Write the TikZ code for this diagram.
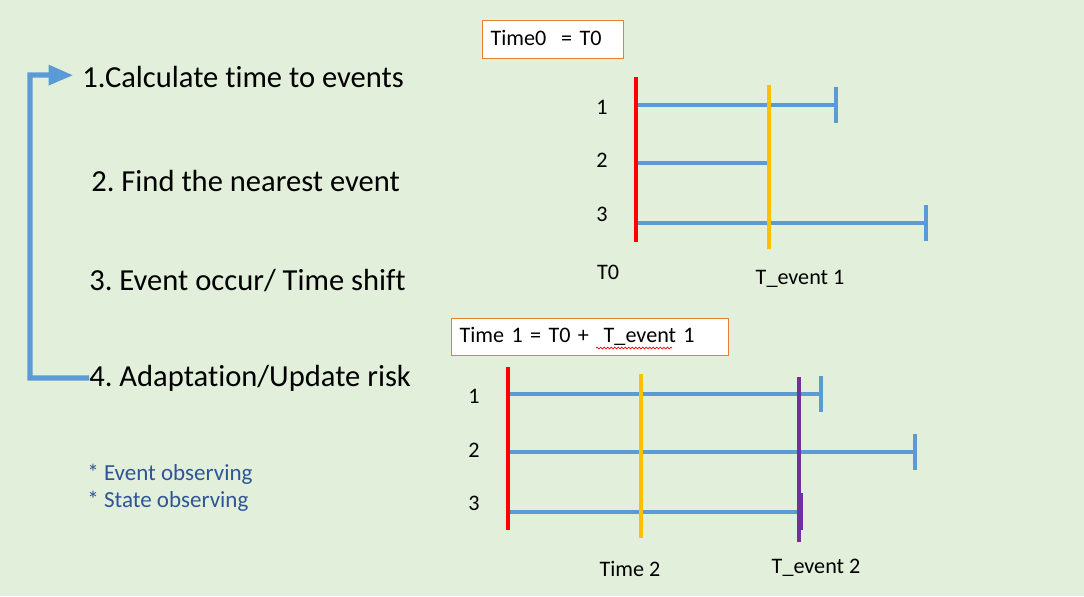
\documentclass[tikz,border=0pt]{standalone}
\usepackage{fontspec}
\setmainfont{Carlito}[Ligatures=NoCommon]
\usetikzlibrary{arrows.meta,decorations.pathmorphing}
\definecolor{bgcolor}{HTML}{E2EFDA}
\definecolor{barcolor}{HTML}{5B9BD5}
\definecolor{boxcolor}{HTML}{ED7D31}
\definecolor{notecolor}{HTML}{2F5597}
\definecolor{nowcolor}{HTML}{FF0000}
\definecolor{nextcolor}{HTML}{FFC000}
\definecolor{latercolor}{HTML}{7030A0}
\newcommand{\barwidth}{2.3pt}
\newcommand{\stepfont}{\fontsize{17.4}{20}\selectfont}
\newcommand{\labelfont}{\fontsize{12.6}{15}\selectfont}
\newcommand{\notefont}{\fontsize{13.1}{15}\selectfont}
\frenchspacing

\begin{document}
\begin{tikzpicture}[x=0.02cm,y=-0.02cm,
  steptext/.style={anchor=west,inner sep=0pt,font=\stepfont},
  rowlabel/.style={inner sep=0pt,font=\labelfont},
  timebox/.style={draw=boxcolor,fill=white,line width=0.7pt,anchor=north west,
    inner sep=0pt,font=\labelfont,text height=9pt,text depth=2.5pt},
  bar/.style={barcolor,line width=\barwidth},
  marker/.style={line width=\barwidth}]
\fill[bgcolor] (0,0) rectangle (1084,596);
\useasboundingbox (0,0) rectangle (1084,596);
%steps
\node[steptext] (s1) at (82,77) {1.Calculate time to events};
\node[steptext] (s2) at (91,181) {2. Find the nearest event};
\node[steptext] (s3) at (89,281) {3. Event occur/ Time shift};
\node[steptext] (s4) at (89,378) {4. Adaptation/Update risk};
\coordinate (c4) at (30,378);
\coordinate (c1) at (30,75);
\draw[barcolor,line width=3pt,-{Triangle[length=14pt,width=11pt]}]
  (s4.west) -- (c4) -- (c1) -- ([xshift=-5pt,yshift=1pt]s1.west);
\node[anchor=west,inner sep=0pt,font=\notefont,text=notecolor] (n1) at (87,474) {* Event observing};
\node[anchor=west,inner sep=0pt,font=\notefont,text=notecolor] (n2) at (87,501) {* State observing};
%time 0
\node[timebox,minimum width=141*0.02cm,minimum height=38*0.02cm,text width=125*0.02cm] (b0) at (482,20) {Time0~ = T0};
\coordinate (red0a) at (636,77);
\coordinate (red0b) at (636,242);
\coordinate (yel0a) at (769,85);
\coordinate (yel0b) at (769,249);
\coordinate (r01a) at (636,105);
\coordinate (r01b) at (838,105);
\coordinate (r02a) at (636,163);
\coordinate (r02b) at (769,163);
\coordinate (r03a) at (636,223);
\coordinate (r03b) at (928,223);
\draw[bar,-{Bar[width=20pt,line width=\barwidth]}] (r01a) -- (r01b);
\draw[bar] (r02a) -- (r02b);
\draw[bar,-{Bar[width=21pt,line width=\barwidth]}] (r03a) -- (r03b);
\draw[marker,nowcolor] (red0a) -- (red0b);
\draw[marker,nextcolor] (yel0a) -- (yel0b);
\node[rowlabel] (l01) at (602,107) {1};
\node[rowlabel] (l02) at (602,160) {2};
\node[rowlabel] (l03) at (602,214) {3};
\node[rowlabel] (t0) at (608,272) {T0};
\node[rowlabel] (te1) at (800,279) {T\_event 1};
%time 1
\node[timebox,minimum width=277*0.02cm,minimum height=37*0.02cm,text width=261*0.02cm] (b1) at (451,318) {Time 1 = T0 +~ T\_event 1};
\coordinate (wa) at (596,348);
\coordinate (wb) at (672,348);
\draw[nowcolor,line width=0.4pt,decorate,decoration={snake,amplitude=0.5pt,segment length=2pt}] (wa) -- (wb);
\coordinate (red1a) at (508,367);
\coordinate (red1b) at (508,530);
\coordinate (yel1a) at (641,374);
\coordinate (yel1b) at (641,538);
\coordinate (pur1a) at (799,377);
\coordinate (pur1b) at (799,542);
\coordinate (r11a) at (508,394);
\coordinate (r11b) at (823,394);
\coordinate (r12a) at (508,452);
\coordinate (r12b) at (917,452);
\coordinate (r13a) at (508,512);
\coordinate (r13b) at (801,512);
\coordinate (p13a) at (801,493);
\coordinate (p13b) at (801,530);
\draw[bar,-{Bar[width=21pt,line width=\barwidth]}] (r11a) -- (r11b);
\draw[bar,-{Bar[width=21pt,line width=\barwidth]}] (r12a) -- (r12b);
\draw[bar] (r13a) -- (r13b);
\draw[marker,nowcolor] (red1a) -- (red1b);
\draw[marker,nextcolor] (yel1a) -- (yel1b);
\draw[marker,latercolor] (pur1a) -- (pur1b);
\draw[marker,latercolor] (p13a) -- (p13b);
\node[rowlabel] (l11) at (474,396) {1};
\node[rowlabel] (l12) at (474,450) {2};
\node[rowlabel] (l13) at (474,503) {3};
\node[rowlabel] (tm2) at (630,569) {Time 2};
\node[rowlabel] (te2) at (816,568) {T\_event 2};
\end{tikzpicture}
\end{document}
